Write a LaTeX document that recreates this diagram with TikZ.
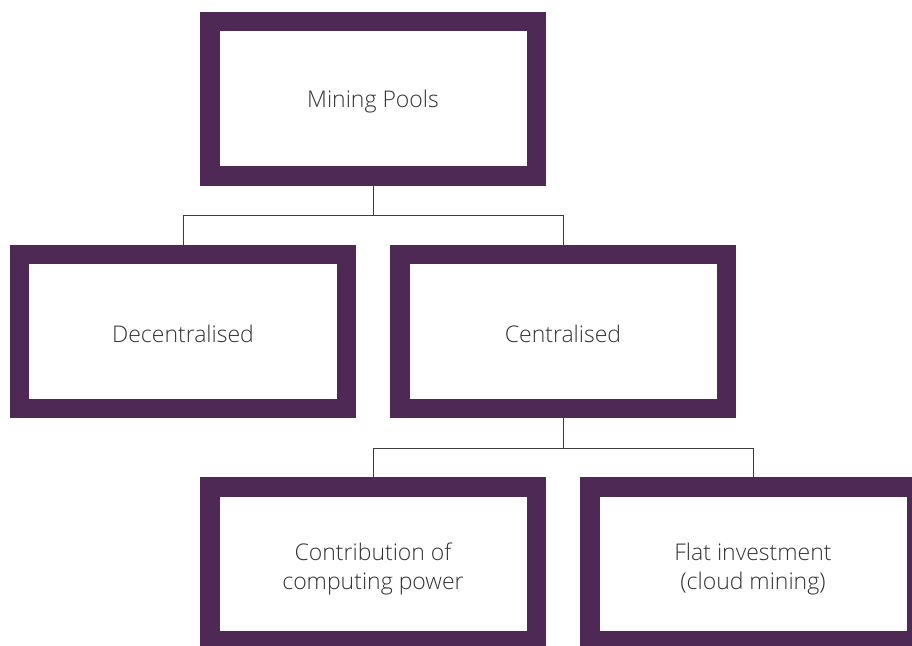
\documentclass[tikz,border=0pt]{standalone}
\usepackage{fontspec}
\setmainfont{Open Sans Light}
\definecolor{plum}{RGB}{79,41,86}
\definecolor{txt}{RGB}{51,51,51}
\definecolor{conn}{RGB}{60,60,60}
\begin{document}
\begin{tikzpicture}[x=1bp,y=-1bp,
  pbox/.style={draw=plum,line width=19.5bp,fill=white,rectangle,
    minimum width=326.5bp,minimum height=154bp,inner sep=0pt},
  ptext/.style={inner sep=0pt,align=center,text=txt,
    font=\fontsize{23bp}{29bp}\selectfont},
  conn/.style={draw=conn,line width=0.9bp}]
\useasboundingbox (0,0) rectangle (912,646);
\clip (0,0) rectangle (912,646);
\node[pbox] (A) at (373,98.75) {};
\node[pbox] (B) at (183,331.5) {};
\node[pbox] (C) at (563,331.5) {};
\node[pbox] (D) at (373,563.75) {};
\node[pbox] (E) at (753,563.75) {};
\node[ptext] (At) at ([yshift=-3bp]A.center) {Mining Pools};
\node[ptext] (Bt) at ([yshift=-2bp]B.center) {Decentralised};
\node[ptext] (Ct) at ([yshift=-2bp]C.center) {Centralised};
\node[ptext] (Dt) at ([yshift=-5bp]D.center) {Contribution of\\computing power};
\node[ptext] (Et) at ([yshift=-5bp]E.center) {Flat investment\\(cloud mining)};
\coordinate (j1) at ([yshift=-30bp]A.south);
\coordinate (j2) at ([yshift=-30bp]C.south);
\draw[conn] (A.south) -- (j1);
\draw[conn] (j1) -| (B.north);
\draw[conn] (j1) -| (C.north);
\draw[conn] (C.south) -- (j2);
\draw[conn] (j2) -| (D.north);
\draw[conn] (j2) -| (E.north);
\end{tikzpicture}
\end{document}
